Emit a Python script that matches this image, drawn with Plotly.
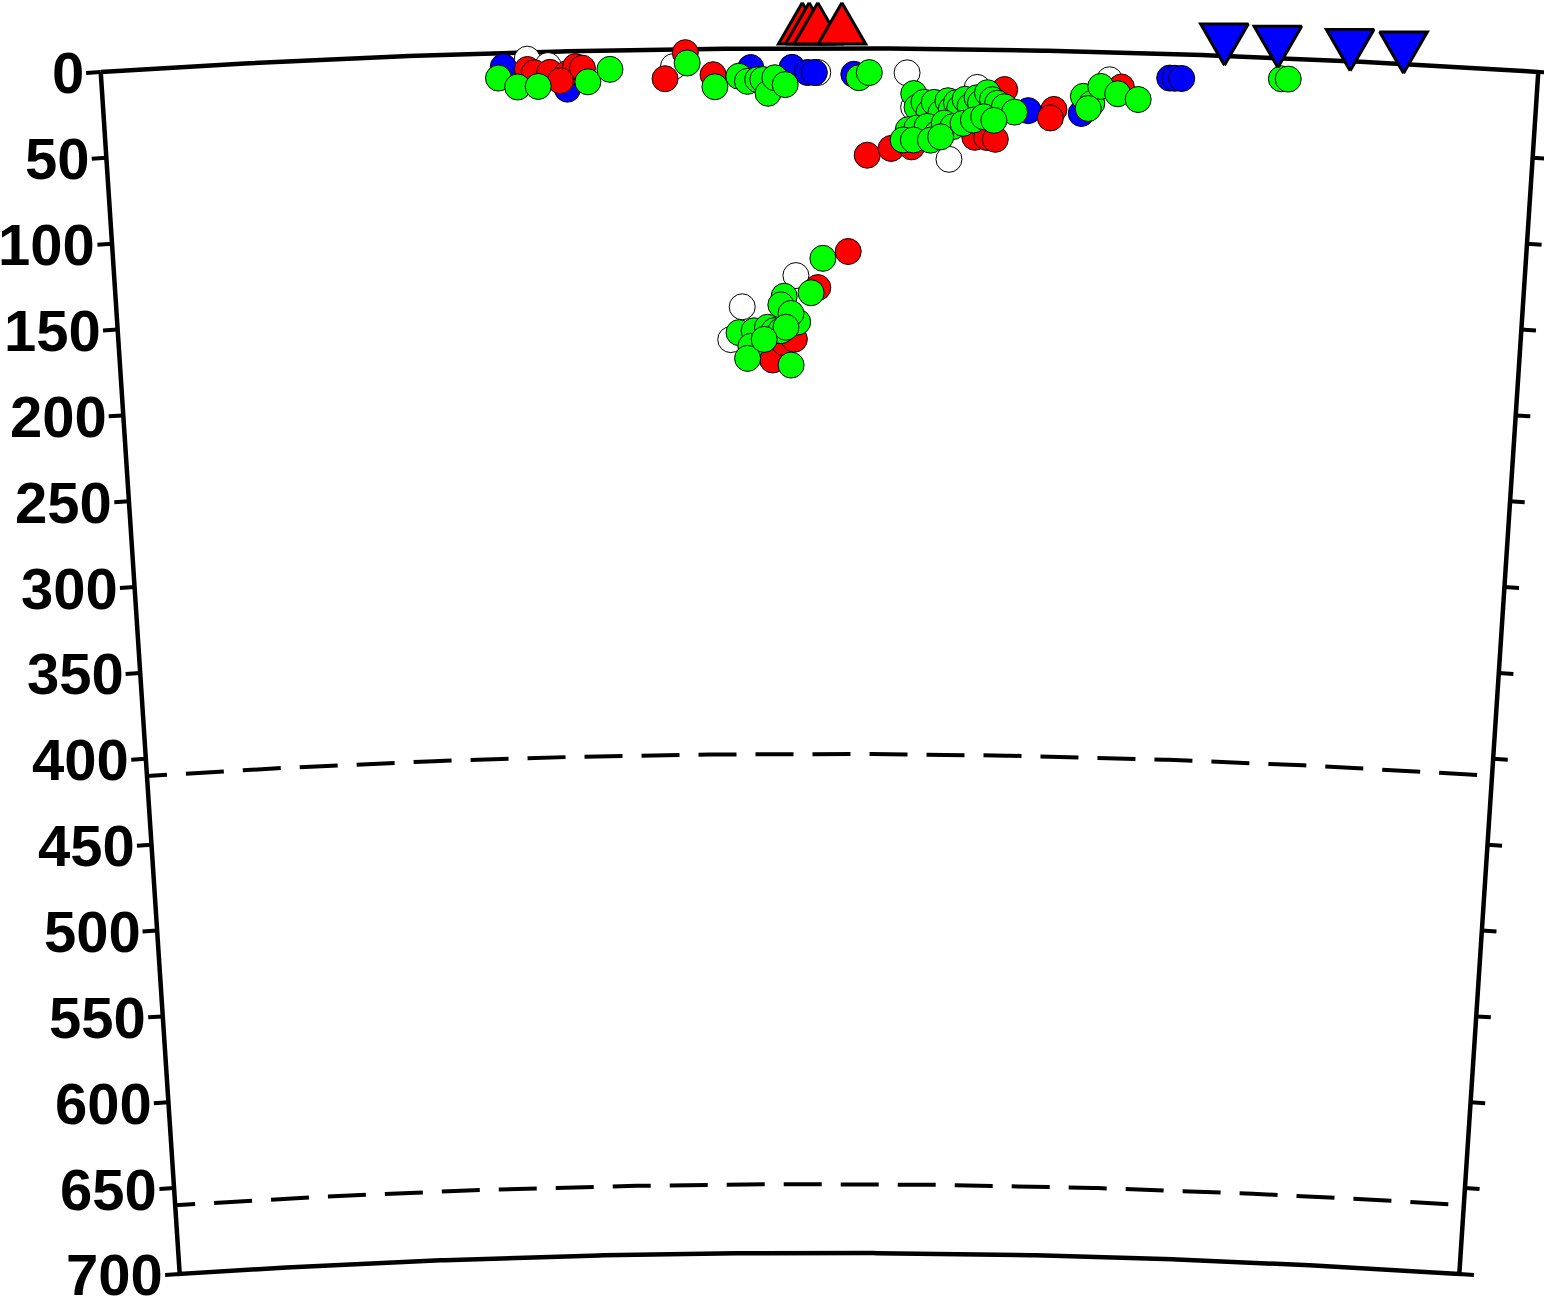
import numpy as np
import plotly.graph_objects as go

# ---------------- data ----------------
R_EARTH = 6371.0          # km
PROFILE_LEN = 836.0       # km along the surface
MAX_DEPTH = 700.0

depth_ticks = [0, 50, 100, 150, 200, 250, 300, 350, 400, 450, 500, 550, 600, 650, 700]
discontinuity_depths = [410, 660]

# earthquakes: distance along profile (km), depth (km)
white_dist = [248, 260, 333, 417, 469, 473, 510, 494, 587, 404, 372, 365]
white_depth = [4, 8, 10, 14, 14, 34, 22, 64, 16, 132, 150, 169]

blue_dist = [234, 271, 378, 402, 411, 415, 438, 540, 571, 622, 625, 629]
blue_depth = [8, 22, 11, 11, 14, 14, 15, 35, 36, 14, 14, 14]

red_dist = [248, 252, 261, 271, 276, 280, 267, 328, 340, 356, 446, 460, 472, 509,
            516, 521, 526, 555, 553, 594, 435, 417, 390, 397, 403]
red_depth = [10, 12, 12, 13, 9, 10, 17, 17, 2, 15, 62, 58, 57, 51,
             51, 52, 23, 34, 39, 20, 118, 139, 181, 171, 169]

green_dist = [231, 242, 254, 283, 296, 341, 357, 371, 376, 382, 385, 388, 392, 398, 441, 447,
              473, 475, 479, 482, 485, 489, 493, 495, 498, 500, 503, 506, 510, 512, 516, 519,
              522, 526, 532, 470, 475, 481, 487, 491, 496, 502, 508, 514, 520, 467, 473, 483, 489,
              572, 577, 582, 592, 604, 575, 687, 691,
              420, 413, 397, 395, 405, 401, 370, 379, 387, 391, 395, 398, 377, 375, 385, 401]
green_depth = [14.5, 20, 20, 18, 11, 8, 22, 16, 19, 18, 18, 26, 17, 21, 17, 14,
               26, 34, 31, 37, 31, 37, 30, 35, 31, 34, 29, 33, 28, 31, 25, 29,
               31, 33, 36, 47, 46, 45, 49, 43, 45, 43, 41, 39, 41, 53, 53, 53, 51,
               26, 30, 20, 24, 27, 33, 12, 12,
               122, 142, 144, 149, 159, 154, 165, 164, 162, 164, 164, 162, 173, 180, 169, 184]

# stations (plotted above the surface): distance (km), height above surface (km)
volcano_dist = [408, 412, 417, 431]
volcano_height = [10.5, 10.5, 10.5, 10.5]
seismo_dist = [653, 684, 726, 757]
seismo_height = [10.5, 10.5, 10.5, 10.5]

# ---------------- layout constants ----------------
W, H = 1544, 1299
K = 1.7208              # px per km
CX = 819.5              # px: x of profile centre
TOP = 48.4              # px: y of surface at profile centre
CY = TOP + R_EARTH * K  # px: y of Earth's centre
TICK_KM = 8.5
TRI_R = 27.5 / K        # triangle circumradius (km)
DASH = "20px," + ",".join(["19px,38px"] * 26)


def to_xy(dist, depth):
    dist = np.asarray(dist, float)
    depth = np.asarray(depth, float)
    th = (dist - PROFILE_LEN / 2) / R_EARTH
    r = R_EARTH - depth
    return r * np.sin(th), r * np.cos(th)


fig = go.Figure()

# frame
n = 300
s = np.linspace(0, PROFILE_LEN, n)
dd = np.linspace(0, MAX_DEPTH, n)
fd = np.concatenate([s, np.full(n, PROFILE_LEN), s[::-1], np.zeros(n)])
fz = np.concatenate([np.zeros(n), dd, np.full(n, MAX_DEPTH), dd[::-1]])
fx, fy = to_xy(fd, fz)
fig.add_trace(go.Scatter(x=fx, y=fy, mode="lines",
                         line=dict(color="black", width=4.5), hoverinfo="skip"))

# ticks
tx, ty = [], []
for d in depth_ticks:
    for edge, sgn in ((0.0, -1), (PROFILE_LEN, 1)):
        x0, y0 = to_xy(edge, d)
        th = (edge - PROFILE_LEN / 2) / R_EARTH
        x1 = x0 + sgn * TICK_KM * np.cos(th)
        y1 = y0 - sgn * TICK_KM * np.sin(th)
        tx += [float(x0), float(x1), None]
        ty += [float(y0), float(y1), None]
fig.add_trace(go.Scatter(x=tx, y=ty, mode="lines",
                         line=dict(color="black", width=4), hoverinfo="skip"))

# discontinuities
for d in discontinuity_depths:
    dx_, dy_ = to_xy(s, np.full(n, d))
    fig.add_trace(go.Scatter(x=dx_, y=dy_, mode="lines",
                             line=dict(color="black", width=4, dash=DASH),
                             hoverinfo="skip"))

# earthquakes
for dist, depth, col in ((white_dist, white_depth, "#ffffff"),
                         (blue_dist, blue_depth, "#0000ff"),
                         (red_dist, red_depth, "#ff0000"),
                         (green_dist, green_depth, "#00ff00")):
    ex, ey = to_xy(dist, depth)
    fig.add_trace(go.Scatter(x=ex, y=ey, mode="markers",
                             marker=dict(size=26, color=col,
                                         line=dict(color="black", width=1)),
                             hoverinfo="skip"))

# stations as triangles
def triangle(dist, height, up):
    cx, cy = to_xy(dist, -height)
    ang = np.deg2rad([90, 210, 330, 90]) if up else np.deg2rad([270, 30, 150, 270])
    return cx + TRI_R * np.cos(ang), cy + TRI_R * np.sin(ang)

for d, h in zip(volcano_dist, volcano_height):
    px, py = triangle(d, h, True)
    fig.add_trace(go.Scatter(x=px, y=py, mode="lines", fill="toself",
                             fillcolor="#ff0000", line=dict(color="black", width=3),
                             hoverinfo="skip"))
for d, h in zip(seismo_dist, seismo_height):
    px, py = triangle(d, h, False)
    fig.add_trace(go.Scatter(x=px, y=py, mode="lines", fill="toself",
                             fillcolor="#0000ff", line=dict(color="black", width=3),
                             hoverinfo="skip"))

# depth labels
annotations = []
for d in depth_ticks:
    x0, y0 = to_xy(0.0, d)
    th = -PROFILE_LEN / 2 / R_EARTH
    xe = x0 - TICK_KM * np.cos(th)
    ye = y0 + TICK_KM * np.sin(th)
    annotations.append(dict(x=float(xe), y=float(ye), text=str(d), showarrow=False,
                            xanchor="right", yanchor="middle",
                            font=dict(family="Liberation Sans", size=58,
                                      color="black", weight="bold")))

fig.update_layout(
    width=W, height=H, autosize=False,
    margin=dict(l=0, r=0, t=0, b=0, pad=0),
    paper_bgcolor="white", plot_bgcolor="white",
    showlegend=False,
    xaxis=dict(range=[(0 - CX) / K, (W - CX) / K], visible=False),
    yaxis=dict(range=[(CY - H) / K, CY / K], visible=False),
    annotations=annotations,
)

fig.write_html("out.html",
               config={"displayModeBar": False, "staticPlot": True},
               post_script="document.body.style.margin='0';document.body.style.overflow='hidden';")
